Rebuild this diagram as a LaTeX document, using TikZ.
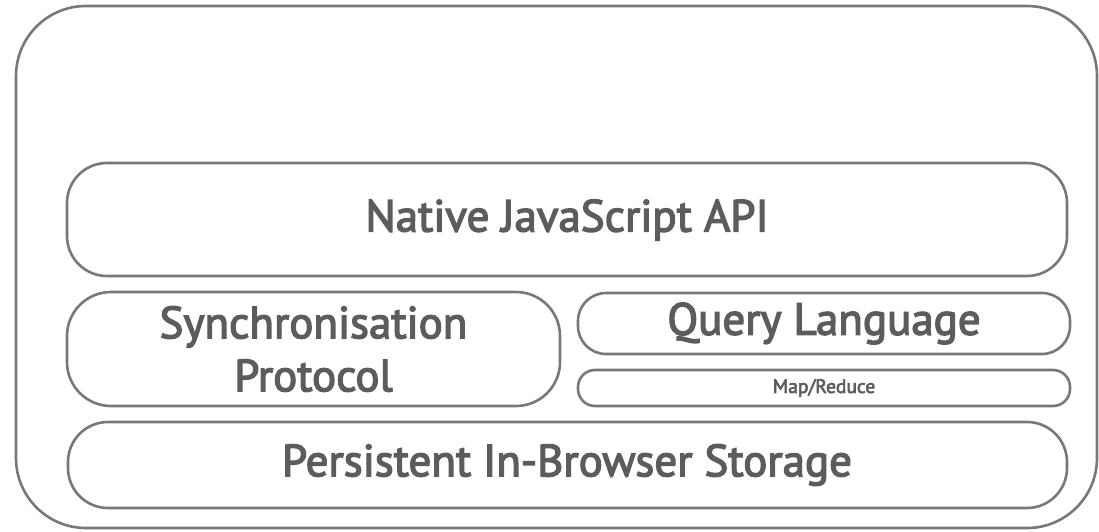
\documentclass[tikz,border=0pt]{standalone}
\usepackage{fontspec}
\setmainfont{PT Sans}[FakeBold=3]
\begin{document}
\begin{tikzpicture}[x=1pt,y=1pt,
  frame/.style={draw=linegray, line width=2.6pt},
  big/.style={text=textgray, font=\fontsize{45}{53}\selectfont},
  small/.style={text=textgray, font=\fontsize{19.5}{22}\selectfont}]
\definecolor{linegray}{HTML}{787878}
\definecolor{textgray}{HTML}{5C5C5C}
\useasboundingbox (0,0) rectangle (1099,531);
% outer container
\draw[frame, rounded corners=70pt] (16,3) rectangle (1097,525);
% stacked layers
\draw[frame, rounded corners=40pt] (67,255) rectangle (1067,368);
\node[big] (api) at (567,311) {Native JavaScript API};
\draw[frame, rounded corners=44pt] (67,125) rectangle (560,239);
\node[big, align=center] (sync) at (313.5,182) {Synchronisation\\Protocol};
\draw[frame, rounded corners=28pt] (578,177) rectangle (1070,238);
\node[big] (query) at (824,207.5) {Query Language};
\draw[frame, rounded corners=17pt] (578,125) rectangle (1070,161);
\node[small] (mapred) at (824,143) {Map/Reduce};
\draw[frame, rounded corners=40pt] (68,23) rectangle (1067,109);
\node[big] (store) at (567,66) {Persistent In-Browser Storage};
\end{tikzpicture}
\end{document}
